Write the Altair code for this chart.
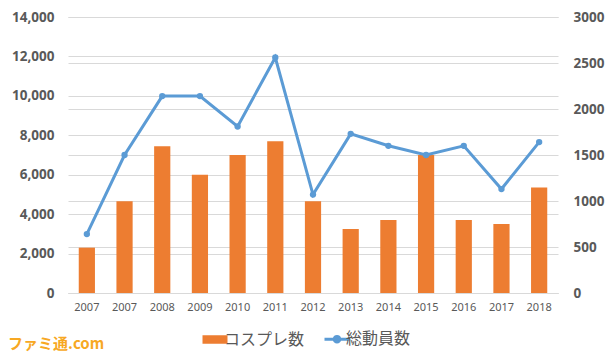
import altair as alt
import pandas as pd

years = ["2007", "2007", "2008", "2009", "2010", "2011", "2012",
         "2013", "2014", "2015", "2016", "2017", "2018"]
cosplay = [2300, 4650, 7450, 6000, 7000, 7700, 4650, 3250, 3700, 7000, 3700, 3500, 5350]
total = [640, 1500, 2140, 2140, 1810, 2560, 1070, 1730, 1600, 1500, 1600, 1130, 1640]
series = ["コスプレ数", "総動員数"]
colors = ["#ED7D31", "#5B9BD5"]
left_ticks = [0, 2000, 4000, 6000, 8000, 10000, 12000, 14000]
right_ticks = [0, 500, 1000, 1500, 2000, 2500, 3000]

df = pd.DataFrame({"i": list(range(len(years))), "year": years,
                   "cos": cosplay, "tot": total})

label_expr = "[" + ",".join(f"'{y}'" for y in years) + "][datum.value]"
GRAY = "#595959"
GRID = "#D9D9D9"
FONT = "Noto Sans"

x = alt.X("i:O", title=None,
          scale=alt.Scale(paddingInner=0.57, paddingOuter=0.285),
          axis=alt.Axis(labelExpr=label_expr, labelAngle=0, ticks=False,
                        domain=True, domainColor=GRID, labelPadding=8,
                        labelFontSize=11, labelColor=GRAY, labelFont=FONT,
                        grid=False))

sym_shape = ("datum.value === '総動員数' ? "
             "'M-1,0H1M-0.22,0A0.22,0.22,0,1,1,0.22,0A0.22,0.22,0,1,1,-0.22,0Z' : "
             "'M-1,-0.34H1V0.34H-1Z'")
sym_color = "datum.value === '総動員数' ? '#5B9BD5' : '#ED7D31'"

legend = alt.Legend(
    title=None, orient="none", direction="horizontal",
    legendX=139, legendY=314,
    labelFont="Noto Sans CJK JP", labelFontSize=16, labelColor=GRAY,
    symbolSize=625, columnPadding=13, labelOffset=1,
    symbolType=alt.ExprRef(expr=sym_shape),
    symbolFillColor=alt.ExprRef(expr=sym_color),
    symbolStrokeColor=alt.ExprRef(expr=sym_color),
    symbolStrokeWidth=alt.ExprRef(expr="datum.value === '総動員数' ? 3 : 0"),
    symbolOpacity=1,
)

color_scale = alt.Scale(domain=series, range=colors)

bars = alt.Chart(df).transform_calculate(s=f"'{series[0]}'").mark_bar().encode(
    x=x,
    y=alt.Y("cos:Q", title=None,
            scale=alt.Scale(domain=[0, 14000]),
            axis=alt.Axis(values=left_ticks, format=",.0f", orient="left",
                          domain=False, ticks=False, labelPadding=14,
                          labelFontSize=13.5, labelColor=GRAY, labelFont=FONT,
                          labelFontWeight="bold",
                          grid=True, gridColor=GRID)),
    color=alt.Color("s:N", scale=color_scale, legend=legend),
)

line = alt.Chart(df).transform_calculate(s=f"'{series[1]}'").mark_line(
    strokeWidth=3, point=alt.OverlayMarkDef(size=40, filled=True)
).encode(
    x=x,
    y=alt.Y("tot:Q", title=None,
            scale=alt.Scale(domain=[0, 3000]),
            axis=alt.Axis(values=right_ticks, format="d", orient="right",
                          domain=False, ticks=False, labelPadding=15,
                          labelFontSize=13.5, labelColor=GRAY, labelFont=FONT,
                          labelFontWeight="bold",
                          grid=True, gridColor=GRID)),
    color=alt.Color("s:N", scale=color_scale, legend=legend),
)

mark_df = pd.DataFrame({"t": ["ファミ通.com"]})
watermark = alt.Chart(mark_df).mark_text(
    align="left", baseline="bottom", fontSize=15, fontWeight="bold",
    font="Noto Sans CJK JP", color="#F7A823"
).encode(x=alt.value(-60), y=alt.value(335), text="t:N")

chart = alt.layer(bars, line, watermark).resolve_scale(y="independent").properties(
    width=490, height=276,
    autosize=alt.AutoSizeParams(type="none"),
    padding={"left": 60, "top": 9, "right": 48, "bottom": 59},
).configure_view(stroke=None)

chart.save("out.html", embed_options={"renderer": "svg", "actions": False})
